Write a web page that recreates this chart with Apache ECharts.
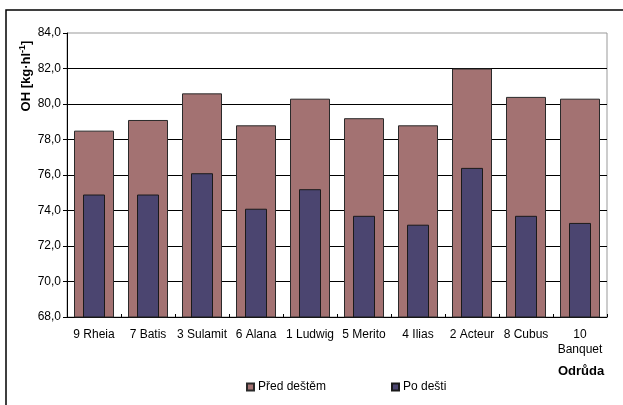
<!DOCTYPE html>
<html>
<head>
<meta charset="utf-8">
<script src="https://cdn.jsdelivr.net/npm/echarts@6/dist/echarts.min.js"></script>
<style>html,body{margin:0;padding:0;background:#fff;}#c{width:623px;height:405px;}</style>
</head>
<body>
<div id="c"></div>
<script>
const categories = ['9 Rheia','7 Batis','3 Sulamit','6 Alana','1 Ludwig','5 Merito','4 Ilias','2 Acteur','8 Cubus','10\nBanquet'];
const predDestem = [78.5, 79.1, 80.6, 78.8, 80.3, 79.2, 78.8, 82.0, 80.4, 80.3];
const poDesti = [74.9, 74.9, 76.1, 74.1, 75.2, 73.7, 73.2, 76.4, 73.7, 73.3];
const yTicks = { min: 68, max: 84, interval: 2 };

const FONT = '"Liberation Sans", Arial, sans-serif';
const chart = echarts.init(document.getElementById('c'), null, {renderer: 'canvas'});
chart.setOption({
  animation: false,
  backgroundColor: '#fff',
  textStyle: {fontFamily: FONT},
  grid: {left: 67, right: 16, top: 33, bottom: 88, show: true, borderColor: '#999', borderWidth: 1, backgroundColor: 'transparent'},
  legend: [
    {data: ['Před deštěm'], left: 246, top: 381, padding: 0, itemWidth: 7, itemHeight: 7, itemGap: 0, icon: 'rect',
     textStyle: {fontFamily: FONT, fontSize: 12, color: '#000', padding: [0,0,0,-1]}},
    {data: ['Po dešti'], left: 391, top: 381, padding: 0, itemWidth: 7, itemHeight: 7, itemGap: 0, icon: 'rect',
     textStyle: {fontFamily: FONT, fontSize: 12, color: '#000', padding: [0,0,0,-1]}}
  ],
  xAxis: [
    {type: 'category', data: categories, boundaryGap: true,
     axisLine: {show: true, lineStyle: {color: '#000', width: 1}},
     axisTick: {show: true, inside: true, length: 3, lineStyle: {color: '#000'}},
     axisLabel: {fontFamily: FONT, fontSize: 12, color: '#000', margin: 10, lineHeight: 15, interval: 0},
     splitLine: {show: false}},
    {type: 'category', data: categories, show: false}
  ],
  yAxis: {type: 'value', min: yTicks.min, max: yTicks.max, interval: yTicks.interval,
    axisLine: {show: true, lineStyle: {color: '#000', width: 1}},
    axisTick: {show: true, length: 4, lineStyle: {color: '#000'}},
    axisLabel: {fontFamily: FONT, fontSize: 12, color: '#000', margin: 6,
      formatter: v => v.toFixed(1).replace('.', ',')},
    splitLine: {show: true, showMaxLine: false, showMinLine: false, lineStyle: {color: '#000', width: 1}}
  },
  series: [
    {name: 'Před deštěm', type: 'bar', xAxisIndex: 0, data: predDestem, barWidth: 40,
     itemStyle: {color: '#A37272', borderColor: '#2a2a2a', borderWidth: 1}},
    {name: 'Po dešti', type: 'bar', xAxisIndex: 1, data: poDesti, barWidth: 22,
     itemStyle: {color: '#4B4570', borderColor: '#1a1a1a', borderWidth: 1}}
  ],
  graphic: [
    {type: 'rect', shape: {x: 6, y: 10, width: 640, height: 420}, style: {fill: 'none', stroke: '#000', lineWidth: 1.5}, silent: true, z: 100},
    {type: 'text', x: 26, y: 76, rotation: Math.PI / 2,
     style: {text: 'OH [kg·hl{s|-1}]', fontFamily: FONT, fontSize: 13, fontWeight: 'bold', fill: '#000',
       align: 'center', verticalAlign: 'middle',
       rich: {s: {fontSize: 9, fontWeight: 'bold', fontFamily: FONT, verticalAlign: 'top', padding: [0,0,7,0]}}}},
    {type: 'text', x: 581, y: 371,
     style: {text: 'Odrůda', fontFamily: FONT, fontSize: 13, fontWeight: 'bold', fill: '#000', align: 'center', verticalAlign: 'middle'}}
  ]
});
</script>
</body>
</html>
